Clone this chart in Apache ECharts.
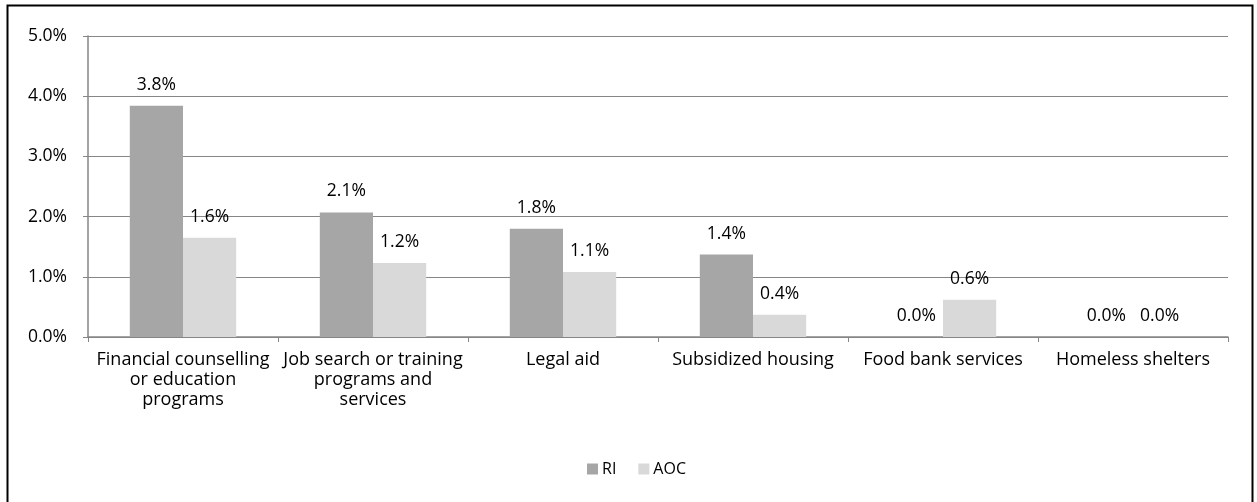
<!DOCTYPE html>
<html>
<head>
<meta charset="utf-8">
<script src="https://cdn.jsdelivr.net/npm/echarts@6/dist/echarts.min.js"></script>
<style>
  html, body { margin: 0; padding: 0; background: #fff; }
  #chart { width: 1257px; height: 502px; }
</style>
</head>
<body>
<div id="chart"></div>
<script>
const categories = [
  'Financial counselling\nor education\nprograms',
  'Job search or training\nprograms and\nservices',
  'Legal aid',
  'Subsidized housing',
  'Food bank services',
  'Homeless shelters'
];
const riValues = [3.84, 2.07, 1.80, 1.37, 0.0, 0.0];
const aocValues = [1.65, 1.23, 1.08, 0.37, 0.62, 0.0];
const yTicks = [0, 1, 2, 3, 4, 5];

const FONT = '"Open Sans", Lato, sans-serif';
const chart = echarts.init(document.getElementById('chart'));

const labelStyle = {
  show: true,
  position: 'top',
  distance: 12,
  color: '#000',
  fontFamily: FONT,
  fontSize: 17.5,
  formatter: p => p.value.toFixed(1) + '%'
};

chart.setOption({
  animation: false,
  textStyle: { fontFamily: FONT },
  graphic: [{
    type: 'rect',
    shape: { x: 7.5, y: 5.5, width: 1245, height: 500 },
    style: { fill: 'none', stroke: '#000', lineWidth: 2 },
    silent: true
  }],
  grid: { left: 88, right: 29, top: 36, bottom: 165, containLabel: false },
  legend: {
    data: ['RI', 'AOC'],
    left: 582,
    top: 456,
    itemWidth: 11,
    itemHeight: 11,
    itemGap: 22,
    icon: 'rect',
    textStyle: { fontFamily: FONT, fontSize: 16, color: '#000', padding: [0, 0, 0, -1] }
  },
  xAxis: {
    type: 'category',
    data: categories,
    axisLine: { lineStyle: { color: '#868686', width: 1.5 } },
    axisTick: { show: true, length: 5, lineStyle: { color: '#868686' } },
    axisLabel: {
      color: '#000',
      fontFamily: FONT,
      fontSize: 18,
      lineHeight: 20,
      margin: 13,
      interval: 0
    }
  },
  yAxis: {
    type: 'value',
    min: yTicks[0],
    max: yTicks[yTicks.length - 1],
    interval: 1,
    axisLine: { show: true, lineStyle: { color: '#868686', width: 1.5 } },
    axisTick: { show: true, length: 5, lineStyle: { color: '#868686' } },
    splitLine: { lineStyle: { color: '#868686', width: 1.2 } },
    axisLabel: {
      color: '#000',
      fontFamily: FONT,
      fontSize: 17.5,
      margin: 21,
      formatter: v => v.toFixed(1) + '%'
    }
  },
  series: [
    {
      name: 'RI',
      type: 'bar',
      data: riValues,
      itemStyle: { color: '#a6a6a6' },
      barGap: '0%',
      barCategoryGap: '44%',
      label: labelStyle
    },
    {
      name: 'AOC',
      type: 'bar',
      data: aocValues,
      itemStyle: { color: '#d9d9d9' },
      label: labelStyle
    }
  ]
});
</script>
</body>
</html>
